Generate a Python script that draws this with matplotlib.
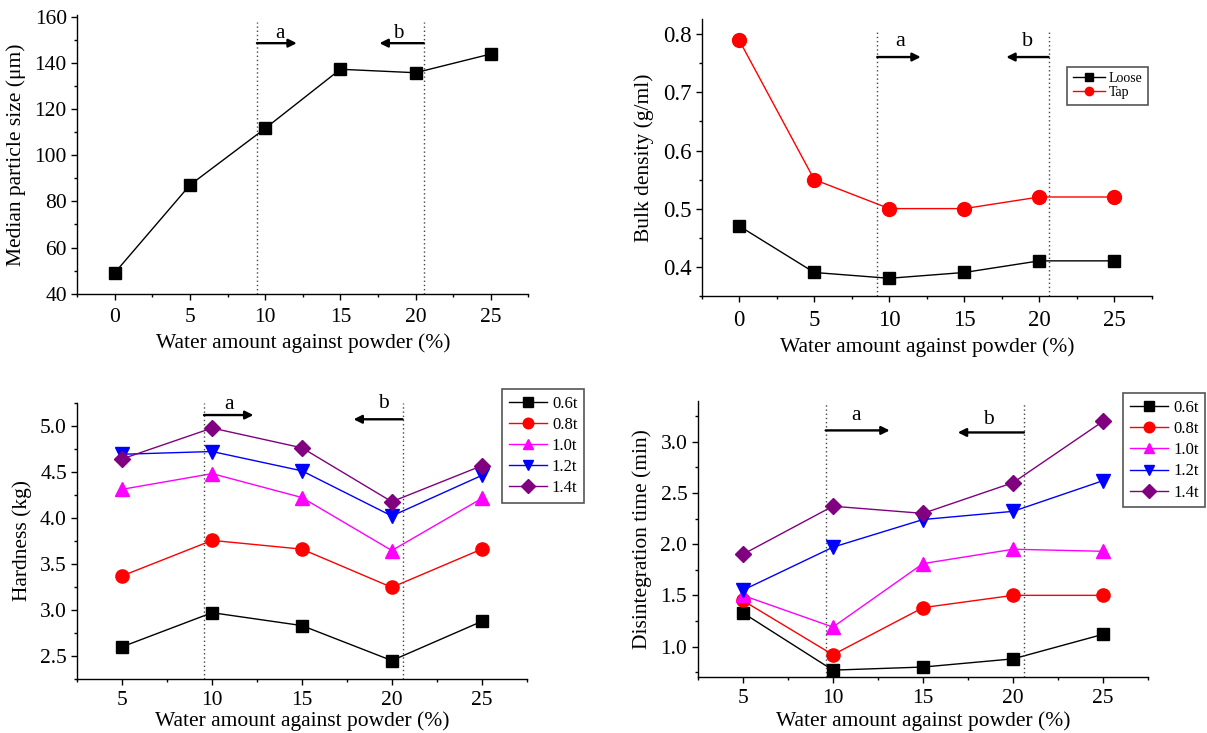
import matplotlib
matplotlib.use("Agg")
import matplotlib.pyplot as plt
from matplotlib.ticker import MultipleLocator

plt.rcParams['font.family'] = ['Liberation Serif', 'DejaVu Serif']

# ---------------- data ----------------
water_a = [0, 5, 10, 15, 20, 25]
median_size = [49.1, 87.1, 111.6, 137.2, 135.7, 143.8]
loose_density = [0.47, 0.39, 0.38, 0.39, 0.41, 0.41]
tap_density = [0.79, 0.55, 0.50, 0.50, 0.52, 0.52]

water_b = [5, 10, 15, 20, 25]
pressure_labels = ['0.6t', '0.8t', '1.0t', '1.2t', '1.4t']
hardness_06 = [2.60, 2.97, 2.83, 2.45, 2.875]
hardness_08 = [3.37, 3.755, 3.66, 3.245, 3.66]
hardness_10 = [4.31, 4.48, 4.22, 3.645, 4.21]
hardness_12 = [4.69, 4.72, 4.51, 4.02, 4.46]
hardness_14 = [4.64, 4.975, 4.76, 4.175, 4.565]
disint_06 = [1.33, 0.77, 0.80, 0.88, 1.12]
disint_08 = [1.45, 0.92, 1.38, 1.50, 1.50]
disint_10 = [1.50, 1.19, 1.81, 1.95, 1.93]
disint_12 = [1.55, 1.97, 2.24, 2.32, 2.62]
disint_14 = [1.90, 2.37, 2.30, 2.60, 3.20]

colors = ['black', 'red', '#FF00FF', 'blue', '#800080']
markers = ['s', 'o', '^', 'v', 'D']
msizes = [8.5, 9.5, 9.5, 9.5, 8.5]

W, H = 1207, 733
fig = plt.figure(figsize=(W / 100, H / 100), dpi=100)


def make_ax(l, r, t, b):
    return fig.add_axes([l / W, 1 - b / H, (r - l) / W, (b - t) / H])


def style(ax, xmaj, xmin, ymaj, ymin, lsize=15.5, xpad=6):
    for s in ['top', 'right']:
        ax.spines[s].set_visible(False)
    for s in ['left', 'bottom']:
        ax.spines[s].set_linewidth(1.0)
    ax.xaxis.set_major_locator(MultipleLocator(xmaj))
    ax.xaxis.set_minor_locator(MultipleLocator(xmin))
    ax.yaxis.set_major_locator(MultipleLocator(ymaj))
    ax.yaxis.set_minor_locator(MultipleLocator(ymin))
    ax.tick_params(which='major', direction='out', length=4.5, width=1.0,
                   labelsize=lsize, pad=3)
    ax.tick_params(axis='x', which='major', pad=xpad)
    ax.tick_params(which='minor', direction='out', length=2.5, width=1.0)


def regions(ax, xa, xb, ya, yb, ea, eb, ytop):
    for xv in (xa, xb):
        ax.axvline(xv, ymax=ytop, color='#444444', ls=(0, (1, 2)), lw=1.0)
    for x0, x1, yv in ((xa, ea, ya), (xb, eb, yb)):
        ax.annotate('', xy=(x1, yv), xytext=(x0, yv),
                    arrowprops=dict(arrowstyle='-|>', color='black', lw=1.7,
                                    mutation_scale=12, shrinkA=0, shrinkB=0))


def legend(ax, anchor, fs, ms_scale, spacing):
    leg = ax.legend(loc='upper left', bbox_to_anchor=anchor,
                    borderaxespad=0, fontsize=fs, fancybox=False,
                    edgecolor='#555555', framealpha=1, handlelength=2.3,
                    handletextpad=0.3, labelspacing=spacing, borderpad=0.4,
                    markerscale=ms_scale)
    leg.get_frame().set_linewidth(1.2)
    return leg


xlabel_txt = 'Water amount against powder (%)'

# ---------------- panel 1 ----------------
ax1 = make_ax(77.3, 528.3, 15, 293.7)
ax1.plot(water_a, median_size, color='black', marker='s', ms=9, lw=1.0)
ax1.set_xlim(-2.5, 27.5)
ax1.set_ylim(40, 160.7)
style(ax1, 5, 2.5, 20, 10)
regions(ax1, 9.45, 20.55, 148.5, 148.5, 12.1, 17.6, 0.975)
ax1.text(10.97, 152.8, 'a', fontsize=15, ha='center', va='center')
ax1.text(18.85, 152.8, 'b', fontsize=15, ha='center', va='center')
ax1.set_xlabel(xlabel_txt, fontsize=15.5, labelpad=4)
ax1.set_ylabel('Median particle size (μm)', fontsize=15.5, labelpad=6)

# ---------------- panel 2 ----------------
ax2 = make_ax(701.7, 1151.8, 19.3, 295.7)
ax2.plot(water_a, loose_density, color='black', marker='s', ms=9, lw=1.0,
         label='Loose')
ax2.plot(water_a, tap_density, color='red', marker='o', ms=10, lw=1.0,
         label='Tap')
ax2.set_xlim(-2.5, 27.5)
ax2.set_ylim(0.35, 0.826)
style(ax2, 5, 2.5, 0.1, 0.05, lsize=16.5)
regions(ax2, 9.2, 20.62, 0.761, 0.761, 12.1, 17.8, 0.96)
ax2.text(10.71, 0.787, 'a', fontsize=16, ha='center', va='center')
ax2.text(19.23, 0.787, 'b', fontsize=16, ha='center', va='center')
ax2.set_xlabel(xlabel_txt, fontsize=15.5, labelpad=4)
ax2.set_ylabel('Bulk density (g/ml)', fontsize=15.5, labelpad=6)
legend(ax2, (0.8116, 0.8285), 10, 0.6, 0.05)

# ---------------- panel 3 ----------------
ax3 = make_ax(77.3, 526.6, 402.7, 679)
hard = [hardness_06, hardness_08, hardness_10, hardness_12, hardness_14]
for vals, c, m, s, lab in zip(hard, colors, markers, msizes, pressure_labels):
    ax3.plot(water_b, vals, color=c, marker=m, ms=s, lw=1.0, label=lab)
ax3.set_xlim(2.5, 27.5)
ax3.set_ylim(2.25, 5.25)
style(ax3, 5, 2.5, 0.5, 0.25, xpad=4)
regions(ax3, 9.55, 20.6, 5.116, 5.07, 12.3, 17.87, 1.0)
ax3.text(10.95, 5.235, 'a', fontsize=15.5, ha='center', va='center')
ax3.text(19.56, 5.24, 'b', fontsize=15.5, ha='center', va='center')
ax3.set_xlabel(xlabel_txt, fontsize=15.5, labelpad=1)
ax3.set_ylabel('Hardness (kg)', fontsize=15.5, labelpad=6)
legend(ax3, (0.945, 1.0485), 12, 0.8, 0.3)

# ---------------- panel 4 ----------------
ax4 = make_ax(697.7, 1148.3, 400.7, 677.3)
dis = [disint_06, disint_08, disint_10, disint_12, disint_14]
for vals, c, m, s, lab in zip(dis, colors, markers, msizes, pressure_labels):
    ax4.plot(water_b, vals, color=c, marker=m, ms=s, lw=1.0, label=lab)
ax4.set_xlim(2.5, 27.5)
ax4.set_ylim(0.7, 3.4)
style(ax4, 5, 2.5, 0.5, 0.25, xpad=4)
regions(ax4, 9.6, 20.6, 3.11, 3.09, 13.15, 16.93, 0.99)
ax4.text(11.3, 3.26, 'a', fontsize=15.5, ha='center', va='center')
ax4.text(18.63, 3.22, 'b', fontsize=15.5, ha='center', va='center')
ax4.set_xlabel(xlabel_txt, fontsize=15.5, labelpad=2)
ax4.set_ylabel('Disintegration time (min)', fontsize=15.5, labelpad=6)
legend(ax4, (0.9439, 1.0268), 12, 0.8, 0.31)

fig.savefig('out.png', dpi=100)
